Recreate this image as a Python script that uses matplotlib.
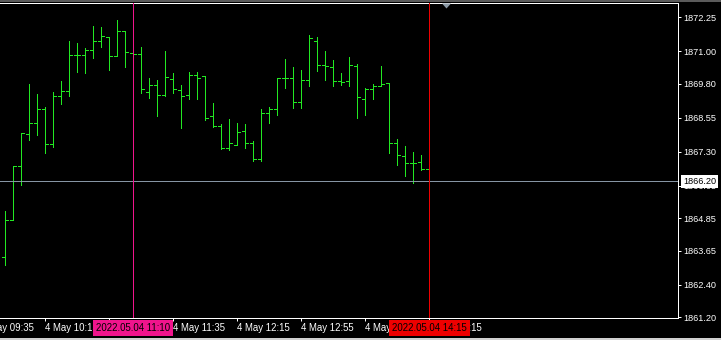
import matplotlib
matplotlib.use('Agg')
import matplotlib.pyplot as plt
import matplotlib.transforms as mtransforms
from matplotlib.collections import LineCollection
from matplotlib.patches import Rectangle, Polygon

# ---- data (XAUUSD-like M5 bars, 4 May 2022 09:50 .. 14:15) ----
opens = [1863.41, 1864.77, 1866.77, 1867.94, 1868.35, 1868.86, 1867.57, 1869.34, 1869.52, 1870.85,
         1870.85, 1871.03, 1871.37, 1871.51, 1870.81, 1871.73, 1870.92, 1870.89, 1869.49, 1869.75,
         1869.38, 1869.97, 1869.56, 1869.38, 1870.11, 1870.08, 1868.60, 1868.24, 1867.45, 1867.54,
         1868.05, 1867.61, 1867.02, 1868.71, 1868.86, 1870.00, 1870.00, 1869.12, 1869.93, 1871.37,
         1870.48, 1870.41, 1869.89, 1869.89, 1870.45, 1869.23, 1869.60, 1869.71, 1869.82, 1867.61,
         1867.13, 1866.87, 1866.91, 1866.65]
highs = [1865.12, 1866.77, 1867.98, 1869.79, 1869.43, 1868.95, 1869.50, 1869.90, 1871.38, 1871.30,
         1871.12, 1871.93, 1871.89, 1871.51, 1872.15, 1871.73, 1871.00, 1871.16, 1870.01, 1869.94,
         1871.01, 1870.20, 1869.76, 1870.24, 1870.24, 1870.08, 1869.09, 1868.32, 1868.50, 1868.36,
         1868.32, 1867.68, 1868.87, 1868.95, 1870.01, 1870.71, 1870.42, 1870.31, 1871.60, 1871.51,
         1871.01, 1870.68, 1870.20, 1870.79, 1870.53, 1869.65, 1869.78, 1870.46, 1869.82, 1867.77,
         1867.51, 1867.29, 1867.18, 1866.65]
lows = [1863.13, 1864.77, 1866.08, 1867.74, 1867.93, 1867.26, 1867.48, 1869.07, 1869.36, 1870.25,
        1870.20, 1870.73, 1871.17, 1870.32, 1870.81, 1870.43, 1870.75, 1869.47, 1869.29, 1868.63,
        1869.33, 1869.47, 1868.18, 1869.22, 1869.22, 1868.48, 1868.22, 1867.41, 1867.37, 1867.54,
        1867.45, 1866.97, 1866.97, 1868.37, 1868.66, 1869.66, 1868.92, 1868.92, 1869.73, 1870.28,
        1869.95, 1869.73, 1869.77, 1869.73, 1868.52, 1868.66, 1869.22, 1869.71, 1867.26, 1866.82,
        1866.42, 1866.16, 1866.64, 1866.18]
closes = [1864.77, 1866.77, 1867.98, 1868.35, 1868.86, 1867.57, 1869.34, 1869.52, 1870.85, 1870.85,
          1871.03, 1871.37, 1871.55, 1870.81, 1871.73, 1870.96, 1870.89, 1869.60, 1869.75, 1869.38,
          1870.04, 1869.60, 1869.34, 1870.11, 1870.00, 1868.53, 1868.24, 1867.45, 1867.61, 1868.01,
          1867.61, 1867.02, 1868.71, 1868.86, 1870.01, 1870.00, 1869.12, 1869.93, 1871.48, 1870.48,
          1870.45, 1869.89, 1869.86, 1870.48, 1869.30, 1869.61, 1869.71, 1869.78, 1867.61, 1867.17,
          1866.87, 1866.87, 1866.65, 1866.20]

x_tick_idx = [-3, 5, 13, 21, 29, 37, 45, 53]
x_tick_labels = ['4 May 09:35', '4 May 10:15', '4 May 10:55', '4 May 11:35',
                 '4 May 12:15', '4 May 12:55', '4 May 13:35', '4 May 14:15']
y_ticks = [1872.25, 1871.00, 1869.80, 1868.55, 1867.30, 1866.05, 1864.85, 1863.65, 1862.40, 1861.20]
y_tick_labels = ['1872.25', '1871.00', '1869.80', '1868.55', '1867.30', '1866.05',
                 '1864.85', '1863.65', '1862.40', '1861.20']

cross_bars = [16, 53]
cross_labels = ['2022.05.04 11:10', '2022.05.04 14:15']
cross_colors = ['#F0148C', '#EE0000']
cross_price = 1866.20
cross_price_label = '1866.20'

# ---- styling ----
W, H = 721, 340
DPI = 100
BAR_COLOR = '#22E822'
FONT = 'Liberation Sans'
FS_X = 6.9
FS_Y = 6.6
px = 72.0 / DPI  # one pixel in points

fig = plt.figure(figsize=(W / DPI, H / DPI), dpi=DPI, facecolor='black')
ax_left, ax_right, ax_top, ax_bottom = 0.0, 677.5, 3.0, 317.5
ax = fig.add_axes([ax_left / W, (H - ax_bottom) / H, (ax_right - ax_left) / W, (ax_bottom - ax_top) / H])
ax.set_facecolor('black')

# bars
segs = []
tl = 0.36
for i, (o, h, l, c) in enumerate(zip(opens, highs, lows, closes)):
    segs.append([(i, l), (i, h)])
    segs.append([(i - tl, o), (i, o)])
    segs.append([(i, c), (i + tl, c)])
lc = LineCollection(segs, colors=BAR_COLOR, linewidths=1.0 * px, antialiaseds=False, zorder=3)
ax.add_collection(lc, autolim=False)

x0 = -5.3 / 8.0
xlim = (x0, x0 + (ax_right - ax_left) / 8.0)
ylim = (1861.19, 1861.19 + (ax_bottom - ax_top) / 27.15)

# spines
ax.spines['left'].set_visible(False)
for s in ['top', 'right', 'bottom']:
    ax.spines[s].set_color('white')
    ax.spines[s].set_linewidth(1.0 * px)

# y axis on right
ax.yaxis.tick_right()
ax.set_yticks(y_ticks)
ax.set_yticklabels(y_tick_labels, fontfamily=FONT, fontsize=FS_Y, color='white')
ax.tick_params(axis='y', colors='white', length=2.2, width=1.0 * px, pad=2.0, labelcolor='white')

# x axis ticks (labels drawn as text so partially visible ones are kept)
ax.set_xticks([i for i in x_tick_idx if xlim[0] <= i <= xlim[1]])
ax.set_xticklabels([])
ax.tick_params(axis='x', colors='white', length=2.5, width=1.0 * px)

ax.set_xlim(*xlim)
ax.set_ylim(*ylim)

tr_x = mtransforms.blended_transform_factory(ax.transData, ax.transAxes)
base_y = -(330.7 - ax_bottom) / (ax_bottom - ax_top)
for i, lab in zip(x_tick_idx, x_tick_labels):
    ax.text(i - 0.06, base_y, lab, transform=tr_x, ha='left', va='baseline',
            fontfamily=FONT, fontsize=FS_X, color='white', clip_on=False, zorder=5)

# crosshair
ax.axhline(cross_price, color='#8695A4', lw=1.0 * px, zorder=4)
for b, col in zip(cross_bars, cross_colors):
    ax.axvline(b, color=col, lw=1.0 * px, zorder=4)

for b, lab, col in zip(cross_bars, cross_labels, cross_colors):
    ax.text(b, base_y, lab, transform=tr_x, ha='center', va='baseline',
            fontfamily=FONT, fontsize=FS_X, color='black', clip_on=False, zorder=10,
            bbox=dict(boxstyle='square,pad=0.3', fc=col, ec='none'))

tr_y = mtransforms.blended_transform_factory(ax.transAxes, ax.transData)
ax.text(1.0 + 5.5 / (ax_right - ax_left), cross_price, cross_price_label, transform=tr_y,
        ha='left', va='center', fontfamily=FONT, fontsize=FS_Y, color='black', clip_on=False,
        zorder=10, bbox=dict(boxstyle='square,pad=0.25', fc='white', ec='none'))

# chart-shift marker (small gray triangle at top)
tx = 446.5
tri = Polygon([((tx - 4.5) / W, (H - 3.5) / H), ((tx + 4.5) / W, (H - 3.5) / H), (tx / W, (H - 8.5) / H)],
              closed=True, transform=fig.transFigure, fc='#8C9AA6', ec='none', zorder=20)
fig.patches.append(tri)

# window borders
fig.patches.append(Rectangle((0, (H - 1.5) / H), 1, 1.5 / H, transform=fig.transFigure,
                             fc='#5A5A5A', ec='none', zorder=20))
fig.patches.append(Rectangle((0, 0), 1, 2.0 / H, transform=fig.transFigure,
                             fc='#D0D0D0', ec='none', zorder=20))

fig.savefig('out.png', dpi=DPI, facecolor='black')
